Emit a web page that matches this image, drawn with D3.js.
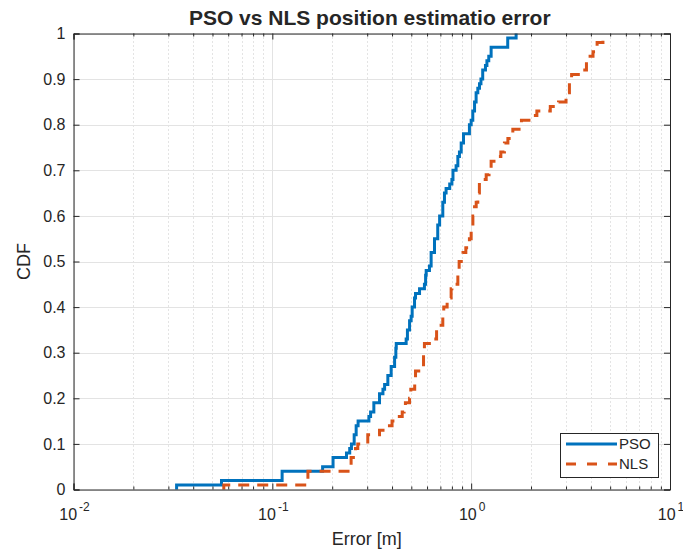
<!DOCTYPE html>
<html>
<head>
<meta charset="utf-8">
<script src="https://cdn.jsdelivr.net/npm/d3@7"></script>
<style>
  html, body { margin: 0; padding: 0; background: #fff; }
  svg text { font-family: "Liberation Sans", Arial, Helvetica, sans-serif; fill: #262626; }
</style>
</head>
<body>
<svg id="chart" width="683" height="552"></svg>
<script>
// ---- Data ----
const chartTitle = "PSO vs NLS position estimatio error";
const xLabel = "Error [m]";
const yLabel = "CDF";
const seriesNames = ["PSO", "NLS"];

// Step points of the empirical CDFs: error value where the CDF jumps, and CDF after the jump
const psoErr = [0.033, 0.033, 0.0555, 0.112, 0.179, 0.202, 0.236, 0.245, 0.25, 0.258, 0.264, 0.27,
  0.306, 0.312, 0.324, 0.346, 0.36, 0.367, 0.381, 0.396, 0.412, 0.418, 0.42, 0.471, 0.478, 0.49,
  0.499, 0.505, 0.519, 0.525, 0.55, 0.582, 0.59, 0.594, 0.617, 0.629, 0.654, 0.679, 0.694, 0.72,
  0.734, 0.748, 0.78, 0.8, 0.81, 0.84, 0.857, 0.873, 0.891, 0.915, 0.98, 1.0, 1.019, 1.04, 1.059,
  1.08, 1.101, 1.12, 1.143, 1.18, 1.2, 1.226, 1.26, 1.527, 1.683];
const psoCdf = [0, 0.01, 0.02, 0.04, 0.05, 0.07, 0.08, 0.09, 0.10, 0.12, 0.14, 0.15,
  0.16, 0.17, 0.19, 0.21, 0.22, 0.23, 0.25, 0.27, 0.29, 0.31, 0.32, 0.33, 0.35, 0.37,
  0.38, 0.40, 0.42, 0.43, 0.44, 0.45, 0.47, 0.48, 0.49, 0.52, 0.55, 0.58, 0.60, 0.63,
  0.65, 0.66, 0.67, 0.68, 0.70, 0.71, 0.73, 0.74, 0.76, 0.78, 0.80, 0.81, 0.83, 0.85, 0.87,
  0.88, 0.89, 0.90, 0.92, 0.93, 0.94, 0.95, 0.97, 0.99, 1.0];

const nlsErr = [0.057, 0.057, 0.151, 0.249, 0.262, 0.269, 0.302, 0.346, 0.367, 0.40, 0.412, 0.45,
  0.46, 0.467, 0.49, 0.497, 0.52, 0.525, 0.57, 0.576, 0.582, 0.629, 0.67, 0.675, 0.72, 0.728,
  0.757, 0.793, 0.80, 0.857, 0.87, 0.91, 0.94, 0.98, 1.0, 1.02, 1.04, 1.06, 1.08, 1.10, 1.19,
  1.23, 1.26, 1.36, 1.41, 1.47, 1.53, 1.62, 1.79, 2.03, 2.14, 2.5, 2.75, 3.0, 3.12, 3.2, 3.6,
  3.8, 4.1, 4.3, 4.6];
const nlsCdf = [0, 0.01, 0.04, 0.07, 0.09, 0.10, 0.12, 0.13, 0.14, 0.15, 0.16, 0.17,
  0.18, 0.19, 0.20, 0.22, 0.24, 0.26, 0.27, 0.30, 0.32, 0.33, 0.35, 0.36, 0.38, 0.40,
  0.42, 0.44, 0.45, 0.48, 0.50, 0.52, 0.53, 0.55, 0.57, 0.60, 0.62, 0.63, 0.65, 0.68, 0.69,
  0.70, 0.72, 0.73, 0.74, 0.76, 0.77, 0.79, 0.81, 0.82, 0.83, 0.84, 0.85, 0.87, 0.90, 0.91, 0.92,
  0.95, 0.96, 0.98, 1.0];

const xDomain = [0.01, 10];
const xTickValues = [0.01, 0.1, 1, 10];
const xTickExponents = ["-2", "-1", "0", "1"];
const yTickValues = [0, 0.1, 0.2, 0.3, 0.4, 0.5, 0.6, 0.7, 0.8, 0.9, 1];
const yTickLabels = ["0", "0.1", "0.2", "0.3", "0.4", "0.5", "0.6", "0.7", "0.8", "0.9", "1"];

// ---- Layout ----
const mLeft = 73.5, mRight = 670, mTop = 33.5, mBottom = 489.5;
const colors = ["#0072BD", "#D95319"];
const axisColor = "#262626";

const svg = d3.select("#chart");
const x = d3.scaleLog().domain(xDomain).range([mLeft, mRight]);
const y = d3.scaleLinear().domain([0, 1]).range([mBottom, mTop]);

// minor tick values 2..9 per decade
const minorVals = [];
for (let d = -2; d < 1; d++) for (let k = 2; k <= 9; k++) minorVals.push(k * Math.pow(10, d));

// ---- Grid ----
const grid = svg.append("g");
grid.selectAll(".minor").data(minorVals).enter().append("line")
  .attr("x1", d => Math.round(x(d)) + 0.5).attr("x2", d => Math.round(x(d)) + 0.5)
  .attr("y1", mTop).attr("y2", mBottom)
  .attr("stroke", "#c8c8c8").attr("stroke-width", 1).attr("stroke-dasharray", "1,3");
grid.selectAll(".hmajor").data(yTickValues).enter().append("line")
  .attr("x1", mLeft).attr("x2", mRight)
  .attr("y1", d => Math.round(y(d)) + 0.5).attr("y2", d => Math.round(y(d)) + 0.5)
  .attr("stroke", "#e3e3e3").attr("stroke-width", 1);
grid.selectAll(".vmajor").data(xTickValues).enter().append("line")
  .attr("x1", d => Math.round(x(d)) + 0.5).attr("x2", d => Math.round(x(d)) + 0.5)
  .attr("y1", mTop).attr("y2", mBottom)
  .attr("stroke", "#e3e3e3").attr("stroke-width", 1);

// ---- Series ----
function toPts(xs, ys) { return xs.map((v, i) => [v, ys[i]]); }
const line = d3.line().x(d => x(d[0])).y(d => y(d[1])).curve(d3.curveStepAfter);
const seriesData = [toPts(psoErr, psoCdf), toPts(nlsErr, nlsCdf)];

svg.append("path").datum(seriesData[0])
  .attr("d", line).attr("fill", "none").attr("stroke", colors[0])
  .attr("stroke-width", 3).attr("stroke-linejoin", "miter");
svg.append("path").datum(seriesData[1])
  .attr("d", line).attr("fill", "none").attr("stroke", colors[1])
  .attr("stroke-width", 3).attr("stroke-dasharray", "11,8");

// ---- Axes (MATLAB style, ticks inside, box) ----
const xAxisB = d3.axisBottom(x).tickValues(xTickValues).tickSize(-6).tickFormat("");
const xAxisT = d3.axisTop(x).tickValues(xTickValues).tickSize(-6).tickFormat("");
const xMinB = d3.axisBottom(x).tickValues(minorVals).tickSize(-3).tickFormat("");
const xMinT = d3.axisTop(x).tickValues(minorVals).tickSize(-3).tickFormat("");
const yAxisL = d3.axisLeft(y).tickValues(yTickValues).tickSize(-6).tickFormat("");
const yAxisR = d3.axisRight(y).tickValues(yTickValues).tickSize(-6).tickFormat("");

function styleAxis(g) {
  g.selectAll("path").attr("stroke", axisColor).attr("stroke-width", 1);
  g.selectAll("line").attr("stroke", axisColor).attr("stroke-width", 1);
}
svg.append("g").attr("transform", `translate(0,${mBottom})`).call(xAxisB).call(styleAxis);
svg.append("g").attr("transform", `translate(0,${mTop})`).call(xAxisT).call(styleAxis);
svg.append("g").attr("transform", `translate(0,${mBottom})`).call(xMinB).call(styleAxis).select("path").remove();
svg.append("g").attr("transform", `translate(0,${mTop})`).call(xMinT).call(styleAxis).select("path").remove();
svg.append("g").attr("transform", `translate(${mLeft},0)`).call(yAxisL).call(styleAxis);
svg.append("g").attr("transform", `translate(${mRight},0)`).call(yAxisR).call(styleAxis);

// tick labels
svg.append("g").selectAll("text").data(yTickValues).enter().append("text")
  .attr("x", mLeft - 8).attr("y", d => y(d)).attr("dy", "0.36em")
  .attr("text-anchor", "end").attr("font-size", 16)
  .text((d, i) => yTickLabels[i]);

const xl = svg.append("g").selectAll("text").data(xTickValues).enter().append("text")
  .attr("x", d => x(d) + 1).attr("y", 520)
  .attr("text-anchor", "middle").attr("font-size", 16);
xl.append("tspan").text("10");
xl.append("tspan").attr("dy", -9).attr("font-size", 12).attr("dx", 2).text((d, i) => xTickExponents[i]);

// labels and title
svg.append("text").attr("x", (mLeft + mRight) / 2 - 5).attr("y", 545)
  .attr("text-anchor", "middle").attr("font-size", 18).text(xLabel);
svg.append("text").attr("transform", `translate(30,${(mTop + mBottom) / 2}) rotate(-90)`)
  .attr("text-anchor", "middle").attr("font-size", 18).text(yLabel);
svg.append("text").attr("x", (mLeft + mRight) / 2 - 2).attr("y", 25)
  .attr("text-anchor", "middle").attr("font-size", 21).attr("font-weight", "bold").text(chartTitle);

// ---- Legend ----
const lg = svg.append("g");
lg.append("rect").attr("x", 560.5).attr("y", 433.5).attr("width", 98).attr("height", 44)
  .attr("fill", "#fff").attr("stroke", axisColor).attr("stroke-width", 1);
seriesNames.forEach((name, i) => {
  const yy = 444 + i * 20;
  lg.append("line").attr("x1", 566).attr("x2", 617).attr("y1", yy).attr("y2", yy)
    .attr("stroke", colors[i]).attr("stroke-width", 3)
    .attr("stroke-dasharray", i === 1 ? "10,11" : null);
  lg.append("text").attr("x", 619).attr("y", yy).attr("dy", "0.36em")
    .attr("font-size", 15).text(name);
});
</script>
</body>
</html>
